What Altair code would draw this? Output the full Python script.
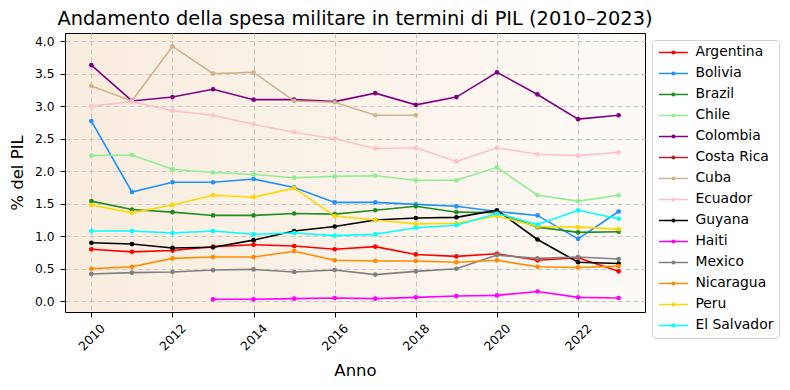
import altair as alt
import pandas as pd

years = list(range(2010, 2024))

countries = ["Argentina", "Bolivia", "Brazil", "Chile", "Colombia", "Costa Rica", "Cuba",
             "Ecuador", "Guyana", "Haiti", "Mexico", "Nicaragua", "Peru", "El Salvador"]
colors = ["#ff0000", "#1e90ff", "#228b22", "#90ee90", "#800080", "#a52a2a", "#d2b48c",
          "#ffc0cb", "#000000", "#ff00ff", "#808080", "#ff8c00", "#ffd700", "#00ffff"]

argentina = [0.80, 0.76, 0.78, 0.84, 0.87, 0.85, 0.80, 0.84, 0.72, 0.69, 0.73, 0.63, 0.67, 0.46]
bolivia = [2.77, 1.68, 1.83, 1.83, 1.88, 1.75, 1.52, 1.52, 1.49, 1.46, 1.38, 1.32, 0.96, 1.38]
brazil = [1.54, 1.41, 1.37, 1.32, 1.32, 1.35, 1.34, 1.40, 1.46, 1.37, 1.36, 1.14, 1.06, 1.07]
chile = [2.24, 2.25, 2.03, 1.98, 1.95, 1.90, 1.92, 1.93, 1.86, 1.86, 2.06, 1.63, 1.54, 1.63]
colombia = [3.63, 3.08, 3.14, 3.26, 3.10, 3.10, 3.07, 3.20, 3.02, 3.14, 3.52, 3.18, 2.80, 2.86]
costa_rica = [None] * 14
cuba = [3.31, 3.08, 3.92, 3.50, 3.52, 3.08, 3.06, 2.86, 2.86, None, None, None, None, None]
ecuador = [3.00, 3.07, 2.93, 2.86, 2.72, 2.60, 2.50, 2.35, 2.36, 2.15, 2.36, 2.26, 2.24, 2.29]
guyana = [0.90, 0.88, 0.82, 0.83, 0.94, 1.08, 1.15, 1.25, 1.28, 1.29, 1.40, 0.95, 0.60, 0.58]
haiti = [None, None, None, 0.03, 0.03, 0.04, 0.05, 0.04, 0.06, 0.08, 0.09, 0.15, 0.06, 0.05]
mexico = [0.42, 0.44, 0.45, 0.48, 0.49, 0.45, 0.48, 0.41, 0.46, 0.50, 0.71, 0.66, 0.68, 0.65]
nicaragua = [0.50, 0.53, 0.66, 0.68, 0.68, 0.77, 0.63, 0.62, 0.62, 0.60, 0.63, 0.53, 0.52, 0.54]
peru = [1.48, 1.36, 1.48, 1.63, 1.60, 1.74, 1.31, 1.25, 1.19, 1.20, 1.31, 1.15, 1.14, 1.11]
el_salvador = [1.08, 1.08, 1.05, 1.08, 1.03, 1.05, 1.01, 1.03, 1.13, 1.17, 1.35, 1.18, 1.40, 1.27]

series = [argentina, bolivia, brazil, chile, colombia, costa_rica, cuba,
          ecuador, guyana, haiti, mexico, nicaragua, peru, el_salvador]

x_ticks = [2010, 2012, 2014, 2016, 2018, 2020, 2022]
y_ticks = [0.0, 0.5, 1.0, 1.5, 2.0, 2.5, 3.0, 3.5, 4.0]

rows = []
for name, vals in zip(countries, series):
    for yr, v in zip(years, vals):
        if v is not None:
            rows.append({"Anno": yr, "pil": v, "country": name})
df = pd.DataFrame(rows)

legend_path = "M-1.1,0 H4.7 M2.05,0 A0.25,0.25 0 1,1 1.55,0 A0.25,0.25 0 1,1 2.05,0"

grid_color = "#c8c8c8"

x_enc = alt.X("Anno:Q",
              scale=alt.Scale(domain=[2009.35, 2023.65], nice=False, zero=False),
              axis=alt.Axis(values=x_ticks, format="d", labelAngle=315, labelAlign="center",
                            labelBaseline="middle", labelPadding=20, tickSize=5,
                            labelFontSize=12.3, labelColor="black", tickColor="black",
                            domain=False, grid=True, gridDash=[5, 3], gridColor=grid_color,
                            labelFlush=False, labelOverlap=False,
                            title="Anno", titleFontSize=16.5, titleFontWeight="normal",
                            titleColor="black", titleY=58, titleBaseline="middle"))
y_enc = alt.Y("pil:Q",
              scale=alt.Scale(domain=[-0.165, 4.125], nice=False, zero=False),
              axis=alt.Axis(values=y_ticks, format=".1f", tickSize=5, labelPadding=6,
                            labelFontSize=12.3, labelColor="black", tickColor="black",
                            domain=False, grid=True, gridDash=[5, 3], gridColor=grid_color,
                            labelFlush=False, labelOverlap=False,
                            title="% del PIL", titleFontSize=16.5, titleFontWeight="normal",
                            titleColor="black", titleAngle=270, titleX=-47.5, titleY=139.5,
                            titleBaseline="middle", titleAlign="center"))
color_enc = alt.Color("country:N",
                      scale=alt.Scale(domain=countries, range=colors),
                      legend=alt.Legend(title=None, orient="none", legendX=587, legendY=7,
                                        padding=5.5, rowPadding=6, labelOffset=24,
                                        labelFontSize=13.9, labelColor="black",
                                        symbolType=legend_path, symbolSize=100,
                                        symbolStrokeWidth=1.6, symbolOpacity=1,
                                        strokeColor="#d3d3d3", fillColor="white",
                                        cornerRadius=3))

base = alt.Chart(df).encode(x=x_enc, y=y_enc, color=color_enc)
lines = base.mark_line(strokeWidth=1.6)
points = base.mark_circle(size=22, opacity=1)

gradient_expr = ("{gradient: 'linear', x1: 0, y1: 0, x2: 1, y2: 0, "
                 "stops: [{offset: 0, color: '#f8ecde'}, {offset: 1, color: '#fdfaf6'}]}")

chart = alt.layer(lines, points).properties(
    width=580, height=279,
    title=alt.Title("Andamento della spesa militare in termini di PIL (2010–2023)",
                    fontSize=19.4, fontWeight="normal", anchor="middle", color="black",
                    offset=4),
    autosize=alt.AutoSizeParams(type="none"),
    padding={"left": 57, "top": 25, "right": 137, "bottom": 70},
).configure(font="DejaVu Sans").configure_view(
    stroke="black", strokeWidth=1, fill=alt.ExprRef(gradient_expr)
)

chart.save("out.html", embed_options={"renderer": "svg", "actions": False})
